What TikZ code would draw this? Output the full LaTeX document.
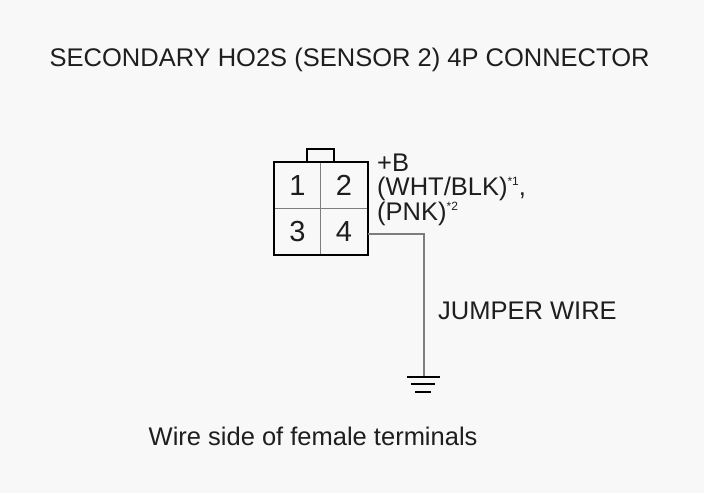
\documentclass[tikz,border=0pt]{standalone}
\usepackage{fontspec}
\setmainfont{Liberation Sans}
\usetikzlibrary{positioning}
\definecolor{bgc}{RGB}{248,248,248}
\definecolor{txt}{RGB}{30,30,30}
\definecolor{wirec}{RGB}{125,125,125}
\tikzset{
  lbl/.style={inner sep=0pt, anchor=base west, text=txt, font=\fontsize{25.5}{25.5}\selectfont},
  cell/.style={draw=wirec, line width=1.2pt, minimum width=46.5pt, minimum height=46pt, inner sep=0pt, text=txt, font=\fontsize{29}{29}\selectfont},
  outline/.style={draw=black, line width=2pt},
  wire/.style={draw=wirec, line width=1.3pt},
  gnd/.style={draw=black, line width=1.8pt}
}
\begin{document}
\begin{tikzpicture}[x=1pt,y=-1pt]
\fill[bgc] (0,0) rectangle (704,493);
\useasboundingbox (0,0) rectangle (704,493);
\node[lbl] (title) at (49.5,66.5) {SECONDARY HO2S (SENSOR 2) 4P CONNECTOR};
% connector cells
\node[cell] (c1) at (297.5,185.5) {1};
\node[cell] (c2) at (344,185.5) {2};
\node[cell] (c3) at (297.5,231.5) {3};
\node[cell] (c4) at (344,231.5) {4};
\draw[outline] (c1.north west) rectangle (c4.south east);
\draw[outline] (306.7,162.5) -- (306.7,149) -- (334,149) -- (334,162.5);
% labels
\node[lbl] (pb) at (377,171) {+B};
\node[lbl] (wht) at (377,195.5) {(WHT/BLK)\raisebox{10pt}{\fontsize{12}{12}\selectfont *1},};
\node[lbl] (pnk) at (377,220) {(PNK)\raisebox{10pt}{\fontsize{12}{12}\selectfont *2}};
% wire
\coordinate (corner) at (424,234);
\coordinate (g) at (424,376.7);
\draw[wire] ([yshift=-2.5pt]c4.east) -- (corner) -- (g);
\draw[gnd] ([xshift=-17pt]g) -- ([xshift=15.5pt]g);
\draw[gnd] ([xshift=-13pt,yshift=-7.5pt]g) -- ([xshift=11pt,yshift=-7.5pt]g);
\draw[gnd] ([xshift=-9pt,yshift=-15.5pt]g) -- ([xshift=7pt,yshift=-15.5pt]g);
\node[lbl] (jw) at (438,319) {JUMPER WIRE};
\node[lbl] (foot) at (148.5,445) {Wire side of female terminals};
\end{tikzpicture}
\end{document}
